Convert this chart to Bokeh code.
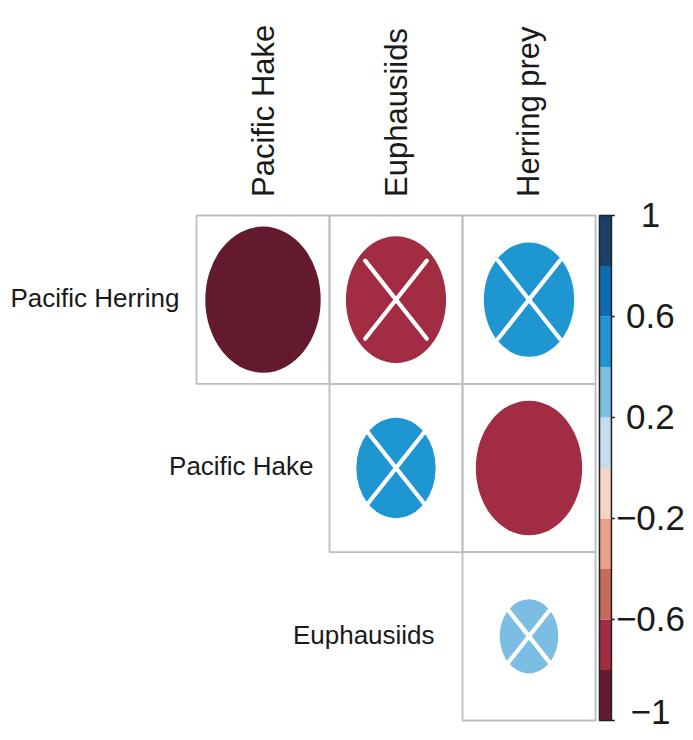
import math
from bokeh.plotting import figure
from bokeh.models import Range1d
from bokeh.core.properties import value
from bokeh.embed import file_html
from bokeh.resources import INLINE

# ---------------- data ----------------
row_names = ["Pacific Herring", "Pacific Hake", "Euphausiids"]
col_names = ["Pacific Hake", "Euphausiids", "Herring prey"]

cell_rows = ["Pacific Herring", "Pacific Herring", "Pacific Herring",
             "Pacific Hake", "Pacific Hake", "Euphausiids"]
cell_cols = ["Pacific Hake", "Euphausiids", "Herring prey",
             "Euphausiids", "Herring prey", "Herring prey"]
corr_values = [-0.93, -0.70, 0.57, 0.44, -0.79, 0.24]
not_significant = [False, True, True, True, False, True]

# colour bins from -1 to 1 (10 bins)
palette = ["#641A2E", "#A22C41", "#C66A5A", "#E9A084", "#F4D5C6",
           "#C4DCEC", "#7BBDE3", "#1E96D1", "#0B6DB0", "#1B3F66"]
colorbar_ticks = [1, 0.6, 0.2, -0.2, -0.6, -1]
colorbar_tick_labels = ["1", "0.6", "0.2", "\u22120.2", "\u22120.6", "\u22121"]

# ---------------- helpers ----------------
n = len(row_names)
def xpos(c):
    return col_names.index(c) + 1
def ypos(r):
    return n - row_names.index(r)
def vy(v):  # colour-bar value -> y
    return (n + 1) / 2 + v * n / 2
def color_of(v):
    k = int(math.floor((v + 1) / 0.2))
    return palette[min(max(k, 0), len(palette) - 1)]

FONT = value("Liberation Sans")
W, H = 685, 732
p = figure(width=W, height=H, output_backend="svg", toolbar_location=None,
           x_range=Range1d(-0.9737, 4.1767), y_range=Range1d(0.4287, 4.7772),
           x_axis_location=None, y_axis_location=None, min_border=0)
p.grid.visible = False
p.outline_line_color = None
p.background_fill_color = "white"

# grid cells (upper triangle)
gx, gy = [], []
for r in range(n):
    for c in range(r, n):
        gx.append(c + 1)
        gy.append(n - r)
p.rect(x=gx, y=gy, width=1, height=1, fill_color=None,
       line_color="#B9BEC6", line_width=1.8)

# ellipses
cx = [xpos(c) for c in cell_cols]
cy = [ypos(r) for r in cell_rows]
size = [0.9 * math.sqrt(abs(v)) for v in corr_values]
cols = [color_of(v) for v in corr_values]
p.ellipse(x=cx, y=cy, width=size, height=size, fill_color=cols, line_color=None)

# crosses for non-significant
d = 0.232
sx0, sy0, sx1, sy1 = [], [], [], []
for x, y, ns in zip(cx, cy, not_significant):
    if ns:
        sx0 += [x - d, x - d]; sy0 += [y + d, y - d]
        sx1 += [x + d, x + d]; sy1 += [y - d, y + d]
p.segment(x0=sx0, y0=sy0, x1=sx1, y1=sy1, line_color="white",
          line_width=4.2, line_cap="round")

# row labels
row_off = [0.128, 0.12, 0.21]
p.text(x=[i + 0.5 - row_off[i] for i in range(n)],
       y=[n - i + 0.01 for i in range(n)], text=row_names,
       text_align="right", text_baseline="middle",
       text_font=FONT, text_font_size="26px", text_color="#1a1a1a")

# column labels (rotated)
p.text(x=[j + 1 for j in range(n)], y=[n + 0.5 + 0.11] * n, text=col_names,
       angle=math.pi / 2, text_align="left", text_baseline="middle",
       text_font=FONT, text_font_size="31px", text_color="#1a1a1a")

# colour bar
cb_l, cb_r = 3.530, 3.620
lo = [-1 + 0.2 * k for k in range(len(palette))]
p.quad(left=cb_l, right=cb_r, bottom=[vy(v) for v in lo],
       top=[vy(v + 0.2) for v in lo], fill_color=palette, line_color=None)
p.quad(left=[cb_l], right=[cb_r], bottom=[vy(-1)], top=[vy(1)],
       fill_color=None, line_color="#222222", line_width=1.5)
p.segment(x0=[cb_r] * len(colorbar_ticks), x1=[cb_r + 0.025] * len(colorbar_ticks),
          y0=[vy(t) for t in colorbar_ticks], y1=[vy(t) for t in colorbar_ticks],
          line_color="#222222", line_width=1.5)
label_y = [vy(t) for t in colorbar_ticks]
label_y[-1] += 0.05  # keep the bottom label inside the page
p.text(x=[3.913] * len(colorbar_ticks), y=label_y,
       text=colorbar_tick_labels, text_align="center", text_baseline="middle",
       text_font=FONT, text_font_size="35px", text_color="#1a1a1a")

open("out.html", "w").write(file_html(p, INLINE))
